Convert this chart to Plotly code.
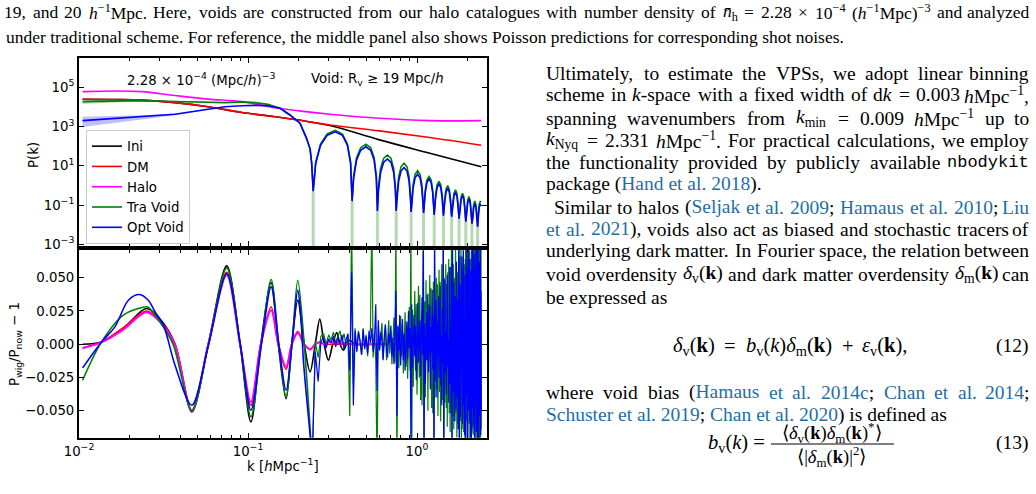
import re
import numpy as np
import plotly.graph_objects as go

W, H = 1036, 494

# ------------------------------------------------------------------ data
# top panel: smooth spectra (k in h/Mpc, log10 P)
smooth_k = [0.0105, 0.0165, 0.0235, 0.037, 0.058, 0.092, 0.1445, 0.2, 0.305, 0.6, 1.19, 2.40]
ini_logP = [4.39, 4.38, 4.35, 4.22, 4.01, 3.72, 3.50, 3.33, 3.05, 2.32, 1.64, 0.95]
dm_logP = [4.39, 4.38, 4.35, 4.22, 4.01, 3.72, 3.50, 3.32, 3.08, 2.78, 2.44, 2.05]
halo_logP = [4.78, 4.81, 4.78, 4.58, 4.40, 4.27, 3.96, 3.80, 3.63, 3.42, 3.30, 3.30]

# top panel: void spectra, low-k part
void_lowk_k = [0.0105, 0.0135, 0.0165, 0.0235, 0.037, 0.058, 0.073, 0.092, 0.110, 0.131, 0.145,
               0.155, 0.177, 0.203, 0.222, 0.233, 0.238]
tra_lowk_logP = [4.27, 4.29, 4.31, 4.32, 4.28, 4.22, 4.22, 4.26, 4.22, 4.13, 4.02,
                 3.93, 3.59, 3.17, 2.40, 1.85, 1.15]
opt_lowk_logP = [3.30, 3.36, 3.42, 3.49, 3.63, 3.88, 4.01, 4.06, 4.08, 4.06, 4.00,
                 3.93, 3.59, 3.17, 2.40, 1.85, 1.15]

# top panel: void spectra, oscillating high-k part (zeros and arches)
void_arch_k = [
    0.243, 0.2515, 0.2685, 0.294, 0.328, 0.362, 0.3875, 0.4045,
    0.413, 0.4215, 0.4385, 0.464, 0.498, 0.532, 0.5575, 0.5745,
    0.583, 0.5915, 0.6085, 0.634, 0.668, 0.702, 0.7275, 0.7445,
    0.753, 0.7615, 0.7785, 0.804, 0.838, 0.872, 0.8975, 0.9145,
    0.923, 0.9315, 0.9485, 0.974, 1.008, 1.042, 1.0675, 1.0845,
    1.093, 1.1015, 1.1185, 1.144, 1.178, 1.212, 1.2375, 1.2545,
    1.263, 1.2885, 1.314, 1.348, 1.382, 1.4075,
    1.433, 1.4585, 1.484, 1.518, 1.552, 1.5775,
    1.603, 1.6285, 1.654, 1.688, 1.722, 1.7475,
    1.773, 1.7985, 1.824, 1.858, 1.892, 1.9175,
    1.943, 1.9685, 1.994, 2.028, 2.062, 2.0875,
    2.113, 2.1385, 2.164, 2.198, 2.232, 2.2575,
    2.283, 2.3085, 2.334, 2.368, 2.40]
tra_arch_logP = [
    -0.30, 1.19, 2.11, 2.62, 2.80, 2.62, 2.11, 1.19,
    -0.80, 0.49, 1.41, 1.92, 2.10, 1.92, 1.41, 0.49,
    -1.30, -0.06, 0.86, 1.37, 1.55, 1.37, 0.86, -0.06,
    -1.30, -0.48, 0.44, 0.95, 1.13, 0.95, 0.44, -0.48,
    -1.35, -0.80, 0.06, 0.57, 0.75, 0.57, 0.06, -0.80,
    -1.40, -1.00, -0.24, 0.27, 0.45, 0.27, -0.24, -1.00,
    -1.50, -0.48, 0.03, 0.21, 0.03, -0.48,
    -1.55, -0.70, -0.19, -0.01, -0.19, -0.70,
    -1.60, -0.92, -0.41, -0.23, -0.41, -0.92,
    -1.70, -1.09, -0.58, -0.40, -0.58, -1.09,
    -1.85, -1.26, -0.75, -0.57, -0.75, -1.26,
    -1.95, -1.48, -0.97, -0.79, -0.97, -1.48,
    -2.10, -1.40, -0.95, -0.82, -0.85]
opt_arch_logP = [
    -0.30, 1.12, 2.04, 2.55, 2.73, 2.55, 2.04, 1.12,
    -0.80, 0.36, 1.28, 1.79, 1.97, 1.79, 1.28, 0.36,
    -1.30, -0.26, 0.66, 1.17, 1.35, 1.17, 0.66, -0.26,
    -1.30, -0.70, 0.22, 0.73, 0.91, 0.73, 0.22, -0.70,
    -1.35, -0.95, -0.12, 0.39, 0.57, 0.39, -0.12, -0.95,
    -1.40, -1.10, -0.37, 0.14, 0.32, 0.14, -0.37, -1.10,
    -1.50, -0.62, -0.11, 0.07, -0.11, -0.62,
    -1.55, -0.84, -0.33, -0.15, -0.33, -0.84,
    -1.60, -1.05, -0.54, -0.36, -0.54, -1.05,
    -1.70, -1.22, -0.71, -0.53, -0.71, -1.22,
    -1.85, -1.39, -0.88, -0.70, -0.88, -1.39,
    -1.95, -1.64, -1.13, -0.95, -1.13, -1.64,
    -2.10, -1.55, -1.10, -0.98, -1.05]

# zeros of the void spectra, where the Tra Void error band reaches the bottom
void_zero_k = [0.243, 0.413, 0.583, 0.753, 0.923, 1.093, 1.263, 1.433, 1.603, 1.773, 1.943, 2.113, 2.283]
void_zero_logP = [-0.30, -0.80, -1.30, -1.30, -1.35, -1.40, -1.50, -1.55, -1.60, -1.70, -1.85, -1.95, -2.10]

# top panel: error bands at low k (log10 P)
band_k = [0.0105, 0.0135, 0.0165, 0.0235, 0.037, 0.058]
tra_band_hi = [4.37, 4.37, 4.37, 4.36, 4.30, 4.23]
tra_band_lo = [4.15, 4.19, 4.23, 4.28, 4.26, 4.21]
opt_band_hi = [3.50, 3.53, 3.55, 3.57, 3.67, 3.90]
opt_band_lo = [2.98, 3.10, 3.20, 3.36, 3.58, 3.86]

# bottom panel: P_wig/P_now - 1, BAO region
ratio_k = [0.0105, 0.0136, 0.0183, 0.0251, 0.031, 0.037, 0.0465, 0.0582, 0.0748, 0.0897, 0.104,
           0.119, 0.137, 0.151, 0.168, 0.1815, 0.197, 0.215, 0.233, 0.25, 0.266, 0.282, 0.299,
           0.317, 0.335, 0.35, 0.367, 0.383, 0.40, 0.43, 0.6, 1.0, 2.4]
ini_ratio = [0.0, 0.0017, 0.0118, 0.0268, 0.017, 0.0, -0.051, 0.0, 0.0589, 0.0, -0.0584,
             0.0, 0.0464, 0.0, -0.041, 0.0, 0.0331, 0.0, -0.0208, 0.0, 0.0188, 0.0, -0.012,
             0.0, 0.0088, 0.0, -0.0045, 0.0, 0.003, 0.0, 0.0, 0.0, 0.0]
dm_ratio = [-0.0028, 0.0017, 0.0125, 0.025, 0.016, 0.0, -0.050, 0.0, 0.054, 0.0, -0.046,
            0.0, 0.028, 0.0, -0.019, 0.0, 0.0095, 0.0, -0.004, 0.0, 0.0015, 0.0, 0.0,
            0.0, 0.0, 0.0, 0.0, 0.0, 0.0, 0.0, 0.0, 0.0, 0.0]
halo_ratio = [-0.003, 0.0015, 0.011, 0.024, 0.015, -0.001, -0.050, 0.0, 0.052, 0.0, -0.0434,
              0.0, 0.0256, 0.0, -0.0171, 0.0, 0.0085, 0.0, -0.004, 0.0, 0.0015, 0.0, 0.002,
              0.001, 0.0015, 0.0005, 0.001, 0.0, 0.0, 0.0, 0.0, 0.0, 0.0]

tra_ratio_k = [0.0105, 0.0136, 0.0183, 0.0235, 0.0255, 0.0301, 0.036, 0.0465, 0.0585, 0.0748, 0.09,
               0.104, 0.12, 0.137, 0.152, 0.168, 0.182, 0.197, 0.215, 0.228, 0.24]
tra_ratio = [-0.0271, 0.0017, 0.0218, 0.0275, 0.028, 0.0168, 0.0, -0.0496, 0.0, 0.0574, 0.0,
             -0.0546, 0.0, 0.0486, 0.0, -0.0396, 0.0, 0.0481, 0.0, -0.045, -0.09]
opt_ratio_k = [0.0105, 0.0136, 0.0163, 0.0196, 0.0228, 0.0257, 0.0282, 0.0316, 0.037, 0.0465, 0.0585,
               0.0748, 0.09, 0.104, 0.12, 0.137, 0.152, 0.168, 0.182, 0.197, 0.206, 0.213, 0.224, 0.24]
opt_ratio = [-0.0178, 0.0017, 0.013, 0.033, 0.0373, 0.033, 0.0243, 0.0143, -0.0158, -0.0459, 0.0,
             0.0531, 0.0, -0.0496, 0.0, 0.0431, 0.0, -0.0346, 0.0, 0.0406, 0.018, -0.0133, -0.045, -0.085]

# bottom panel: noisy high-k region, sampled every 0.01 h/Mpc from k = 0.24 (values x 1e-3)
noise_k_start, noise_k_step = 0.24, 0.01
tra_noise_milli = [
    -90, 2, -10, 6, 8, 0, 7, 3, 9, 1,
    6, 10, 2, 8, -1, 7, -54, 95, -30, 12,
    -6, 10, 3, -8, 12, -4, 7, -9, 5, 11,
    95, -10, 8, -12, -95, 14, -5, 9, 16, -11,
    3, 14, -12, 6, 18, -7, 10, -15, 8, 20,
    -14, 95, -95, 13, -18, 5, 21, -9, 15, -22,
    12, 24, -17, 7, -26, 17, 28, -20, 95, -95,
    26, -32, 10, 40, -20, 30, -38, 7, 44, -25,
    37, -42, 17, -46, 38, 95, -95, 32, -40, 48,
    -12, 37, -50, 30, 8, 52, -32, 42, -48, 20,
    -52, 47, -95, 95, -40, 25, 50, -34, 45, -54,
    15, 56, -36, 47, -58, 7, 60, -42, -17, 95,
    -95, 50, -44, 19, 60, -48, 45, -62, 54, -22,
    64, -52, 30, -66, 58, -46, 95, -95, 95, -54,
    60, -64, 23, 50, -58, 95, -52, 60, -70, 36,
    54, -60, 72, 95, -95, 66, -58, 27, 76, -95,
    56, -64, 58, -56, 95, -66, 14, 60, -95, 64,
    -95, 95, -58, 74, -36, 68, -72, 62, -66, 95,
    -60, 70, -74, 18, 64, -95, 70, -95, 95, -62,
    74, -68, 76, -46, 70, -76, 95, -66, 74, -95,
    68, -74, 78, 95, -95, 95, -68, 76, -95, 70,
    -64, 82, -76, 95, -70, 78, -64]
opt_noise_milli = [
    -85, -6, -28, 2, 5, -3, 4, 1, 6, -2,
    5, 0, 7, -4, 3, 8, -20, 54, -46, 10,
    -5, 9, 2, -8, 11, -3, 6, -7, 10, 1,
    12, -6, 3, 30, -35, 18, -4, 9, 2, -12,
    6, 15, -3, -10, 8, 1, 14, -9, 5, -15,
    7, 40, -54, 14, -5, 22, -16, 3, 19, -12,
    8, -20, 4, 17, -11, 25, -3, 12, -75, 30,
    -18, 6, 22, -9, 14, -27, 5, 31, -14, 2,
    18, -24, 10, 35, -8, 70, -80, 16, -30, 9,
    24, -12, 38, -21, 4, 29, -34, 13, -6, 41,
    -19, 22, -80, 75, -28, 8, 33, -40, 17, -9,
    36, -25, 12, 44, -31, 6, -46, 27, -15, 80,
    -80, 20, 48, -22, 9, -38, 31, 52, -17, 3,
    -44, 26, 58, -30, 14, -52, 60, -80, 80, -36,
    21, 47, -58, 12, 36, -27, -49, 62, 8, -40,
    33, -64, 54, 80, -80, 18, 45, -55, 24, -33,
    66, -12, -60, 40, 70, -46, 15, -68, 52, 30,
    -80, 80, -38, 58, -22, -70, 44, 72, -50, 10,
    64, -58, 26, -74, 56, 35, -80, 80, -48, 20,
    76, -62, 38, -30, 68, -76, 14, 58, -44, 80,
    -66, 28, 72, 80, -80, 80, -58, 46, -72, 34,
    62, -54, -20, 78, -68, 40, -50]

# axis ticks
x_tick_vals = [0.01, 0.1, 1.0]
x_tick_text = ["10<sup>−2</sup>", "10<sup>−1</sup>", "10<sup>0</sup>"]
x_minor_vals = [0.02, 0.03, 0.04, 0.05, 0.06, 0.07, 0.08, 0.09,
                0.2, 0.3, 0.4, 0.5, 0.6, 0.7, 0.8, 0.9, 2.0]
p_tick_vals = [1e-3, 1e-1, 1e1, 1e3, 1e5]
p_tick_text = ["10<sup>−3</sup>", "10<sup>−1</sup>", "10<sup>1</sup>", "10<sup>3</sup>", "10<sup>5</sup>"]
r_tick_vals = [-0.05, -0.025, 0.0, 0.025, 0.05]
r_tick_text = ["−0.050", "−0.025", "0.000", "0.025", "0.050"]

# page text ({...} = citation link, [...] = monospace)
caption_1 = ("19, and 20 <i>h</i><sup>−1</sup>Mpc. Here, voids are constructed from our halo catalogues "
             "with number density of <i>n̄</i><sub>h</sub> = 2.28 × 10<sup>−4</sup> "
             "(<i>h</i><sup>−1</sup>Mpc)<sup>−3</sup> and analyzed")
caption_2 = ("under traditional scheme. For reference, the middle panel also shows Poisson "
             "predictions for corresponding shot noises.")
DV = "<i>δ</i><sub>v</sub>(<b>k</b>)"
DM_ = "<i>δ</i><sub>m</sub>(<b>k</b>)"
body_lines = [  # (y, x_start, text, justified)
    (73, 545, "Ultimately, to estimate the VPSs, we adopt linear binning", True),
    (95, 545, "scheme in <i>k</i>-space with a fixed width of d<i>k</i> = 0.003 <i>h</i>Mpc<sup>−1</sup>,", True),
    (118, 545, "spanning wavenumbers from <i>k</i><sub>min</sub> = 0.009 <i>h</i>Mpc<sup>−1</sup> up to", True),
    (140, 545, "<i>k</i><sub>Nyq</sub> = 2.331 <i>h</i>Mpc<sup>−1</sup>. For practical calculations, we employ", True),
    (162, 545, "the functionality provided by publicly available [nbodykit]", True),
    (184, 545, "package ({Hand et al. 2018}).", False),
    (207, 553, "Similar to halos ({Seljak et al. 2009}; {Hamaus et al. 2010}; {Liu}", True),
    (229, 545, "{et al. 2021}), voids also act as biased and stochastic tracers of", True),
    (251, 545, "underlying dark matter. In Fourier space, the relation between", True),
    (274, 545, "void overdensity " + DV + " and dark matter overdensity " + DM_ + " can", True),
    (297, 545, "be expressed as", False),
    (392, 545, "where void bias ({Hamaus et al. 2014c}; {Chan et al. 2014};", True),
    (415, 545, "{Schuster et al. 2019}; {Chan et al. 2020}) is defined as", False),
]
eq12_tokens = [DV, "=", "<i>b</i><sub>v</sub>(<i>k</i>)" + DM_, "+", "<i>ε</i><sub>v</sub>(<b>k</b>),"]
eq13_lhs = "<i>b</i><sub>v</sub>(<i>k</i>) ="
eq13_fraction = "⟨" + DV + DM_ + "<sup>*</sup>⟩<br>⟨|" + DM_ + "|<sup>2</sup>⟩"

# ------------------------------------------------------------------ figure
BLACK, RED, MAG, GRN, BLU = "#000000", "#ff0000", "#ff00ff", "#008000", "#0000ff"
fig = go.Figure()
to_p = lambda a: (10.0 ** np.asarray(a)).tolist()

fig.add_trace(go.Scatter(x=band_k + band_k[::-1], y=to_p(tra_band_hi + tra_band_lo[::-1]),
                         fill="toself", fillcolor="rgba(0,128,0,0.25)", line=dict(width=0),
                         mode="lines", showlegend=False, hoverinfo="skip", xaxis="x", yaxis="y"))
fig.add_trace(go.Scatter(x=band_k + band_k[::-1], y=to_p(opt_band_hi + opt_band_lo[::-1]),
                         fill="toself", fillcolor="rgba(0,0,255,0.25)", line=dict(width=0),
                         mode="lines", showlegend=False, hoverinfo="skip", xaxis="x", yaxis="y"))
sx, sy = [], []
for zk, zl in zip(void_zero_k, void_zero_logP):
    sx += [zk, zk, None]
    sy += [10 ** zl, 1e-5, None]
fig.add_trace(go.Scatter(x=sx, y=sy, mode="lines", line=dict(color="rgba(0,128,0,0.3)", width=3),
                         showlegend=False, hoverinfo="skip", xaxis="x", yaxis="y"))

lw = 1.6
for name, kk, lp, c in [("Ini", smooth_k, ini_logP, BLACK), ("DM", smooth_k, dm_logP, RED),
                        ("Halo", smooth_k, halo_logP, MAG)]:
    fig.add_trace(go.Scatter(x=kk, y=to_p(lp), mode="lines", name=name,
                             line=dict(color=c, width=lw, shape="spline"), xaxis="x", yaxis="y"))
fig.add_trace(go.Scatter(x=void_lowk_k + void_arch_k, y=to_p(tra_lowk_logP + tra_arch_logP),
                         mode="lines", name="Tra Void", line=dict(color=GRN, width=lw),
                         xaxis="x", yaxis="y"))
fig.add_trace(go.Scatter(x=void_lowk_k + void_arch_k, y=to_p(opt_lowk_logP + opt_arch_logP),
                         mode="lines", name="Opt Void", line=dict(color=BLU, width=lw),
                         xaxis="x", yaxis="y"))

for vals, c, w in [(ini_ratio, BLACK, lw), (dm_ratio, RED, lw), (halo_ratio, MAG, 2.0)]:
    fig.add_trace(go.Scatter(x=ratio_k, y=vals, mode="lines", showlegend=False,
                             line=dict(color=c, width=w, shape="spline", smoothing=0.9),
                             xaxis="x2", yaxis="y2"))
noise_k = (noise_k_start + noise_k_step * np.arange(len(opt_noise_milli))).tolist()
for kk, vv, nv, c in [(tra_ratio_k, tra_ratio, tra_noise_milli, GRN),
                      (opt_ratio_k, opt_ratio, opt_noise_milli, BLU)]:
    fig.add_trace(go.Scatter(x=kk, y=vv, mode="lines", showlegend=False,
                             line=dict(color=c, width=lw, shape="spline", smoothing=0.9),
                             xaxis="x2", yaxis="y2"))
    fig.add_trace(go.Scatter(x=noise_k, y=(np.asarray(nv) / 1000.0).tolist(), mode="lines",
                             showlegend=False, line=dict(color=c, width=1.2),
                             xaxis="x2", yaxis="y2"))

# ------------------------------------------------------------------ layout
FIG_FONT = "DejaVu Sans"
TS = 13.3
tickfont = dict(family=FIG_FONT, size=TS, color="black")
frame = dict(showline=True, linecolor="black", linewidth=2, mirror="allticks", ticks="inside",
             ticklen=5, tickwidth=1, tickcolor="black", showgrid=False, zeroline=False,
             automargin=False, tickmode="array", tickfont=tickfont)
common_x = dict(frame, type="log", range=[-2.0, 0.414], domain=[79 / W, 487 / W],
                tickvals=x_tick_vals,
                minor=dict(ticks="inside", ticklen=3, tickwidth=1, tickcolor="black",
                           tickmode="array", tickvals=x_minor_vals, showgrid=False))
fig.update_layout(
    template="none",
    width=W, height=H, margin=dict(l=0, r=0, t=0, b=0, autoexpand=False),
    paper_bgcolor="white", plot_bgcolor="white",
    xaxis=dict(common_x, anchor="y", showticklabels=False),
    xaxis2=dict(common_x, anchor="y2", ticktext=x_tick_text),
    yaxis=dict(frame, type="log", range=[-3.09, 6.48], domain=[1 - 246 / H, 1 - 58.3 / H],
               anchor="x", tickvals=p_tick_vals, ticktext=p_tick_text),
    yaxis2=dict(frame, range=[-0.0703, 0.0708], domain=[1 - 437.7 / H, 1 - 250 / H],
                anchor="x2", tickvals=r_tick_vals, ticktext=r_tick_text),
    legend=dict(x=86 / W, y=1 - 130 / H, xanchor="left", yanchor="top",
                bgcolor="rgba(255,255,255,0.85)", bordercolor="#cccccc", borderwidth=1,
                font=dict(family=FIG_FONT, size=TS, color="black"), itemwidth=30,
                tracegroupgap=0),
    showlegend=True,
)


def txt(x, y, text, size, anchor="left", family="Liberation Serif", angle=0, color="black"):
    fig.add_annotation(x=x / W, y=1 - y / H, xref="paper", yref="paper", text=text, showarrow=False,
                       xanchor=anchor, yanchor="middle", textangle=angle, borderpad=0,
                       font=dict(size=size, family=family, color=color))


# figure texts
txt(201, 79, "2.28 × 10<sup>−4</sup> (Mpc/<i>h</i>)<sup>−3</sup>", TS, "center", FIG_FONT)
txt(377, 79, "Void: R<sub>v</sub> ≥ 19 Mpc/<i>h</i>", TS, "center", FIG_FONT)
txt(33, 155, "P(k)", TS, "center", FIG_FONT, angle=-90)
txt(15, 344, "P<sub>wig</sub>/P<sub>now</sub> − 1", TS, "center", FIG_FONT, angle=-90)
txt(283, 465, "k [<i>h</i>Mpc<sup>−1</sup>]", TS, "center", FIG_FONT)

# ---- page text with justification (Times metrics, per 1000 em)
TIMES_W = dict(zip(" !\"#$%&'()*+,-./0123456789:;<=>?@",
                   [250, 333, 408, 500, 500, 833, 778, 333, 333, 333, 500, 564, 250, 333, 250, 278]
                   + [500] * 10 + [278, 278, 564, 564, 564, 444, 921]))
TIMES_W.update(zip("ABCDEFGHIJKLMNOPQRSTUVWXYZ",
                   [722, 667, 667, 722, 611, 556, 722, 722, 333, 389, 722, 611, 889, 722, 722, 556,
                    722, 667, 556, 611, 722, 722, 944, 722, 722, 611]))
TIMES_W.update(zip("abcdefghijklmnopqrstuvwxyz",
                   [444, 500, 444, 500, 444, 333, 500, 500, 278, 278, 500, 278, 778, 500, 500, 500,
                    500, 333, 389, 278, 500, 500, 722, 500, 500, 444]))
TIMES_W.update({"[": 333, "]": 333, "−": 564, "×": 564, "≥": 549, "δ": 500, "ε": 440,
                "⟨": 390, "⟩": 390, "̄": 0, "|": 200})
LINK = "#1f6ea3"


def markup(word, state):
    out, run, mode = [], "", None
    for ch in word:
        if ch in "{}[]":
            if run:
                out.append((run, mode))
                run = ""
            if ch == "{":
                state["link"] = True
            elif ch == "}":
                state["link"] = False
            elif ch == "[":
                state["mono"] = True
            else:
                state["mono"] = False
            continue
        m = "mono" if state["mono"] else ("link" if state["link"] else None)
        if m != mode and run:
            out.append((run, mode))
            run = ""
        mode = m
        run += ch
    if run:
        out.append((run, mode))
    s = ""
    for r, m in out:
        if m == "link":
            s += f"<span style='color:{LINK}'>{r}</span>"
        elif m == "mono":
            s += f"<span style='font-family:Liberation Mono;font-size:17px'>{r}</span>"
        else:
            s += r
    return s


def text_width(s, size):
    w, scale, mono = 0.0, 1.0, False
    for part in re.split(r"(<[^>]+>)", s):
        if part.startswith("</sub") or part.startswith("</sup"):
            scale = 1.0
        elif part.startswith("<sub") or part.startswith("<sup"):
            scale = 0.7
        elif part.startswith("<span style='font-family"):
            mono = True
        elif part.startswith("</span"):
            mono = False
        elif part.startswith("<"):
            continue
        else:
            for ch in part:
                w += (600 * 17 / size if mono else TIMES_W.get(ch, 500)) * scale
    return w / 1000 * size


def place_line(y, x0, x1, text, size, justify):
    state = {"link": False, "mono": False}
    words = [markup(wd, state) for wd in text.split(" ")]
    if not justify:
        txt(x0, y, " ".join(words), size)
        return
    place_tokens(y, x0, x1, words, size)


def place_tokens(y, x0, x1, words, size):
    widths = [text_width(wd, size) for wd in words]
    gap = (x1 - x0 - sum(widths)) / (len(words) - 1)
    x = x0
    for i, (wd, wdt) in enumerate(zip(words, widths)):
        if i == len(words) - 1:
            txt(x1, y, wd, size, "right")
        else:
            txt(x, y, wd, size)
        x += wdt + gap


CAP, BODY, EQ = 17.5, 19.5, 20.5
place_line(12, 3, 1030, caption_1, CAP, True)
place_line(37, 5, 1030, caption_2, CAP, False)
for y, x0, text, just in body_lines:
    place_line(y, x0, 1030, text, BODY, just)

place_tokens(346, 672, 908, eq12_tokens, EQ)
txt(1030, 346, "(12)", BODY, "right")
txt(766, 443, eq13_lhs, EQ, "right")
txt(832, 444, eq13_fraction, 18.5, "center")
txt(1030, 443, "(13)", BODY, "right")
fig.add_shape(type="line", xref="paper", yref="paper", x0=771 / W, x1=894 / W,
              y0=1 - 444 / H, y1=1 - 444 / H, line=dict(color="black", width=1))

fig.write_html("out.html")
